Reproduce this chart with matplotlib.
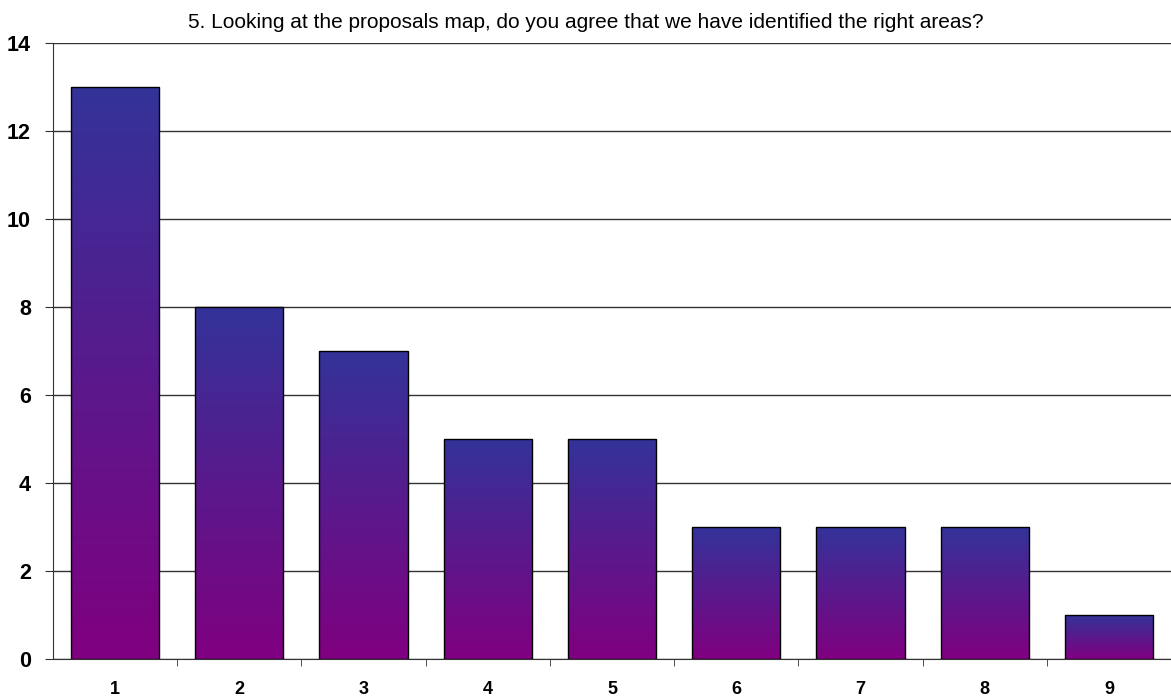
import numpy as np
import matplotlib
matplotlib.use("Agg")
from matplotlib import pyplot as plt
from matplotlib.colors import LinearSegmentedColormap

plt.rcParams['font.family'] = ['Liberation Sans', 'DejaVu Sans']

# 数据
categories = ['1', '2', '3', '4', '5', '6', '7', '8', '9']
counts = [13, 8, 7, 5, 5, 3, 3, 3, 1]
title = "5. Looking at the proposals map, do you agree that we have identified the right areas?"

top_color = '#333399'
bottom_color = '#800080'
cmap = LinearSegmentedColormap.from_list('bar_grad', [bottom_color, top_color])

fig = plt.figure(figsize=(11.71, 6.97), dpi=100)
ax = fig.add_axes([0.0453, 0.0545, 0.9547, 0.8835])

x = np.arange(len(categories))
width = 0.71
bars = ax.bar(x, counts, width=width, color='none', edgecolor='black', linewidth=1.0, zorder=3)

# 每根柱子自己的渐变
grad = np.linspace(0, 1, 256).reshape(-1, 1)
for b in bars:
    x0, y0 = b.get_x(), b.get_y()
    w, h = b.get_width(), b.get_height()
    im = ax.imshow(grad, cmap=cmap, aspect='auto', origin='lower',
                   extent=(x0, x0 + w, y0, y0 + h), zorder=2)
    im.set_clip_path(b)

ax.set_xlim(-0.5, len(categories) - 0.5)
ax.set_ylim(0, 14)
ax.set_yticks(range(0, 15, 2))
ax.set_xticks(x)
ax.set_xticklabels(categories, fontsize=13, fontweight='bold')
ax.set_xticks(np.arange(0.5, len(categories) - 0.5, 1), minor=True)
ax.tick_params(axis='x', which='major', length=0, pad=16)
ax.tick_params(axis='x', which='minor', length=5, direction='out', color='#333333')
ax.tick_params(axis='y', length=6, direction='out', color='#333333', pad=10)
for lab in ax.get_yticklabels():
    lab.set_fontweight('bold')
    lab.set_fontsize(15.5)

ax.yaxis.grid(True, color='#333333', linewidth=1.0, zorder=0)
ax.set_axisbelow(True)
for s in ['top', 'right']:
    ax.spines[s].set_visible(False)
ax.spines['left'].set_color('#333333')
ax.spines['bottom'].set_color('#333333')

fig.text(0.5, 0.968, title, ha='center', va='center', fontsize=15)

fig.savefig('out.png', dpi=100, facecolor='white')
